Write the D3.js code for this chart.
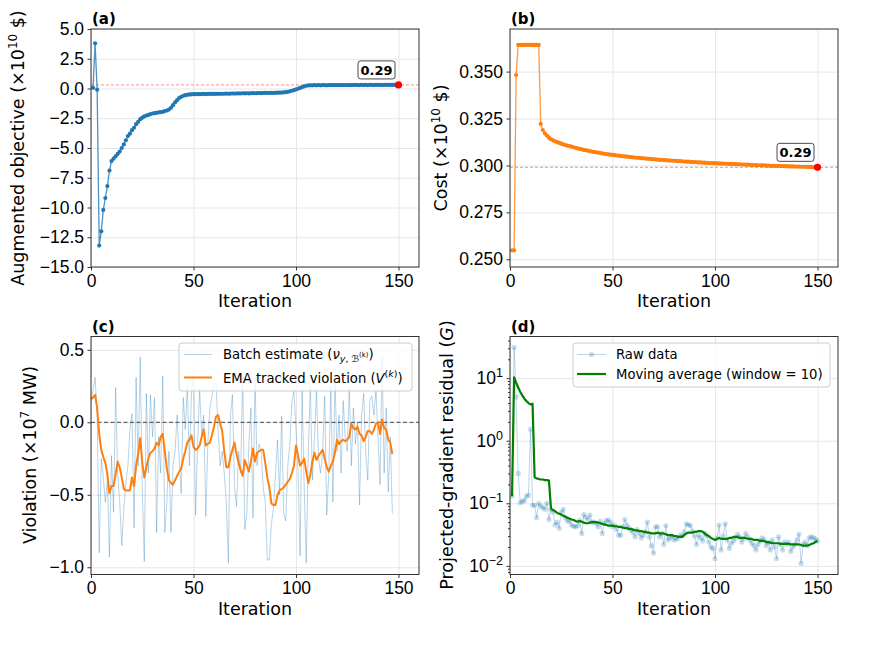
<!DOCTYPE html>
<html>
<head>
<meta charset="utf-8">
<script src="https://cdn.jsdelivr.net/npm/d3@7"></script>
<style>
body { margin: 0; background: #fff; }
svg { font-family: "DejaVu Sans", sans-serif; }
.axis .tick text { font-size: 17.5px; fill: #000; }
.axis .tick line { stroke: #000; stroke-width: 0.8; }
.axis .domain { display: none; }
.grid .tick line { stroke: #e6e6e6; stroke-width: 1; }
.grid .domain { display: none; }
</style>
</head>
<body>
<svg id="fig" width="889" height="647"></svg>
<script>
// iterations for panels a, b, d run 1..150; panel c runs 0..147
var iterations = d3.range(1, 151);
var iterationsC = d3.range(0, 148);

// (a) augmented objective, x1e10 $
var objective = [0.06,3.8,-0.1,-13.2,-12.0,-10.2,-9.2,-8.2,-6.9,-6.1,
  -5.9,-5.7,-5.5,-5.3,-5.0,-4.7,-4.35,-4.0,-3.8,-3.5,
  -3.3,-3.0,-2.8,-2.58,-2.45,-2.35,-2.27,-2.22,-2.15,-2.1,
  -2.07,-2.04,-2.01,-1.99,-1.96,-1.9,-1.85,-1.77,-1.62,-1.4,
  -1.17,-0.98,-0.8,-0.7,-0.61,-0.56,-0.53,-0.5,-0.5,-0.48,
  -0.48,-0.47,-0.48,-0.47,-0.46,-0.47,-0.46,-0.46,-0.45,-0.46,
  -0.45,-0.44,-0.45,-0.44,-0.44,-0.43,-0.44,-0.43,-0.42,-0.43,
  -0.42,-0.41,-0.42,-0.40,-0.41,-0.40,-0.41,-0.40,-0.39,-0.40,
  -0.39,-0.38,-0.39,-0.38,-0.37,-0.38,-0.37,-0.36,-0.37,-0.36,
  -0.35,-0.35,-0.34,-0.33,-0.31,-0.28,-0.24,-0.19,-0.14,-0.08,
  -0.02,0.05,0.12,0.18,0.23,0.26,0.27,0.27,0.28,0.27,
  0.28,0.27,0.28,0.28,0.27,0.28,0.29,0.28,0.28,0.29,
  0.28,0.29,0.28,0.29,0.29,0.28,0.29,0.29,0.30,0.29,
  0.29,0.30,0.29,0.30,0.29,0.30,0.30,0.29,0.30,0.30,
  0.30,0.29,0.30,0.30,0.31,0.30,0.30,0.30,0.30,0.30];

// (b) cost, x1e10 $
var cost = [0.2548,0.2548,0.3482,0.3642,0.3642,0.3642,0.3642,0.3642,0.3642,0.3642,
  0.3642,0.3642,0.3642,0.3642,0.3221,0.3189,0.3171,0.3159,0.3148,0.3139,
  0.3134,0.3129,0.3124,0.3120,0.3116,0.3112,0.3109,0.3106,0.3103,0.3100,
  0.3097,0.3094,0.3091,0.3088,0.3086,0.3083,0.3081,0.3079,0.3076,0.3074,
  0.3072,0.3070,0.3068,0.3066,0.3064,0.3062,0.3061,0.3059,0.3058,0.3056,
  0.3055,0.3053,0.3052,0.3051,0.3049,0.3048,0.3047,0.3046,0.3044,0.3043,
  0.3042,0.3041,0.3040,0.3039,0.3038,0.3037,0.3036,0.3035,0.3034,0.3033,
  0.3032,0.3031,0.3030,0.3030,0.3029,0.3028,0.3027,0.3026,0.3026,0.3025,
  0.3024,0.3023,0.3023,0.3022,0.3021,0.3020,0.3020,0.3019,0.3018,0.3018,
  0.3017,0.3016,0.3016,0.3015,0.3015,0.3014,0.3013,0.3013,0.3012,0.3012,
  0.3011,0.3011,0.3010,0.3010,0.3009,0.3009,0.3008,0.3008,0.3007,0.3007,
  0.3006,0.3006,0.3005,0.3005,0.3004,0.3004,0.3003,0.3003,0.3002,0.3002,
  0.3001,0.3001,0.3000,0.3000,0.2999,0.2999,0.2998,0.2998,0.2998,0.2997,
  0.2997,0.2997,0.2996,0.2996,0.2996,0.2995,0.2995,0.2995,0.2994,0.2994,
  0.2994,0.2993,0.2993,0.2993,0.2992,0.2992,0.2992,0.2991,0.2991,0.2990];

// (c) violation, x1e7 MW
var batchEstimate = [0.15,0.22,0.31,0.05,-0.90,-0.25,-0.38,-0.55,-0.40,-0.93,
  -0.23,-0.62,0.24,-0.35,-0.55,-0.85,-0.60,-0.42,-0.30,-0.05,
  0.06,-0.73,0.31,-0.30,0.45,-0.45,-0.96,0.20,-0.35,0.19,
  -0.10,0.17,-0.76,-0.10,-0.35,0.32,-0.76,-0.55,-0.20,-0.76,
  -0.30,-0.20,0.05,-0.25,-0.49,0.17,-0.05,0.25,-0.30,0.20,
  0.33,-0.64,-0.15,0.23,-0.10,0.05,-0.65,-0.15,0.10,0.18,
  0.30,0.28,-0.05,-0.30,-0.20,-0.35,-0.55,-0.97,0.05,0.19,
  -0.45,-0.58,-0.20,-0.35,0.33,-0.74,-0.63,-0.15,0.10,-0.66,
  0.30,-0.30,-0.15,-0.20,-0.45,-0.55,-0.95,-0.95,-0.70,-0.60,
  -0.35,-0.12,-0.50,0.04,-0.63,-0.68,-0.30,-0.15,0.14,0.22,
  -0.05,-0.35,-0.92,0.22,-0.45,-0.97,-0.20,0.25,-0.40,-0.10,
  0.22,-0.25,-0.35,-0.20,0.18,-0.64,-0.35,0.25,-0.55,0.30,
  -0.20,0.05,-0.35,0.15,-0.10,-0.20,0.25,-0.30,0.10,-0.15,
  0.00,-0.57,0.05,0.20,-0.20,-0.40,0.15,0.18,0.05,0.22,
  -0.10,-0.43,0.45,-0.35,0.10,-0.48,-0.10,-0.63];

var emaViolation = [0.16,0.17,0.19,0.10,-0.08,-0.19,-0.24,-0.28,-0.36,-0.49,
  -0.44,-0.44,-0.36,-0.27,-0.31,-0.38,-0.46,-0.47,-0.47,-0.47,
  -0.38,-0.44,-0.30,-0.22,-0.11,-0.28,-0.38,-0.31,-0.25,-0.21,
  -0.20,-0.18,-0.14,-0.16,-0.10,-0.08,-0.20,-0.32,-0.40,-0.42,
  -0.43,-0.40,-0.37,-0.34,-0.32,-0.25,-0.20,-0.14,-0.12,-0.09,
  -0.17,-0.19,-0.18,-0.16,-0.10,-0.05,-0.16,-0.15,-0.14,-0.09,
  -0.03,0.04,0.05,-0.01,-0.06,-0.20,-0.31,-0.31,-0.24,-0.19,
  -0.14,-0.22,-0.28,-0.33,-0.37,-0.26,-0.30,-0.34,-0.27,-0.18,
  -0.27,-0.21,-0.20,-0.19,-0.19,-0.28,-0.38,-0.45,-0.56,-0.57,
  -0.57,-0.50,-0.47,-0.46,-0.45,-0.43,-0.41,-0.39,-0.35,-0.30,
  -0.16,-0.23,-0.30,-0.28,-0.25,-0.34,-0.42,-0.36,-0.27,-0.21,
  -0.26,-0.23,-0.21,-0.19,-0.25,-0.31,-0.34,-0.30,-0.27,-0.21,
  -0.12,-0.15,-0.13,-0.12,-0.13,-0.12,-0.10,-0.01,-0.04,-0.05,
  -0.03,-0.08,-0.09,-0.13,-0.10,-0.06,-0.06,-0.08,-0.05,-0.01,
  0.00,-0.08,0.02,-0.04,-0.05,-0.12,-0.14,-0.22];

// (d) projected-gradient residual G
var residualRaw = [0.13,31,5.0,0.30,0.102,0.108,0.11,0.13,0.135,1.53,
  0.093,0.093,0.059,0.10,0.09,0.085,0.08,0.10,0.055,0.08,
  0.073,0.045,0.05,0.04,0.072,0.08,0.059,0.052,0.052,0.045,
  0.043,0.042,0.044,0.054,0.033,0.066,0.06,0.055,0.065,0.05,
  0.05,0.048,0.042,0.052,0.033,0.048,0.053,0.054,0.05,0.042,
  0.045,0.038,0.031,0.031,0.042,0.055,0.045,0.040,0.037,0.034,
  0.029,0.038,0.033,0.028,0.031,0.035,0.050,0.029,0.021,0.016,
  0.042,0.042,0.029,0.033,0.022,0.044,0.026,0.028,0.030,0.026,
  0.027,0.028,0.031,0.030,0.035,0.047,0.045,0.044,0.036,0.030,
  0.022,0.031,0.028,0.025,0.033,0.030,0.024,0.020,0.019,0.013,
  0.028,0.045,0.018,0.030,0.047,0.026,0.019,0.023,0.025,0.028,
  0.032,0.029,0.024,0.027,0.033,0.029,0.026,0.023,0.021,0.018,
  0.022,0.025,0.028,0.026,0.021,0.024,0.018,0.026,0.020,0.013,
  0.029,0.022,0.018,0.024,0.022,0.024,0.017,0.020,0.022,0.026,
  0.032,0.011,0.022,0.024,0.021,0.028,0.029,0.028,0.027,0.025];

var residualMA = [0.13,10.3,8.5,7.1,6.0,5.3,4.7,4.3,4.0,3.8,
  3.9,0.26,0.25,0.245,0.24,0.24,0.235,0.235,0.23,0.082,
  0.078,0.075,0.07,0.068,0.066,0.063,0.061,0.059,0.057,0.055,
  0.054,0.052,0.051,0.052,0.051,0.049,0.048,0.048,0.049,0.05,
  0.05,0.05,0.049,0.048,0.047,0.046,0.045,0.044,0.044,0.044,
  0.043,0.043,0.042,0.042,0.041,0.040,0.040,0.039,0.039,0.038,
  0.037,0.037,0.036,0.036,0.035,0.035,0.034,0.034,0.033,0.033,
  0.033,0.034,0.033,0.033,0.033,0.032,0.031,0.031,0.031,0.030,
  0.030,0.029,0.029,0.029,0.031,0.033,0.034,0.034,0.034,0.035,
  0.035,0.036,0.036,0.035,0.033,0.031,0.030,0.028,0.027,0.026,
  0.027,0.028,0.027,0.027,0.027,0.027,0.028,0.028,0.029,0.029,
  0.029,0.028,0.028,0.028,0.028,0.027,0.027,0.027,0.026,0.026,
  0.026,0.025,0.025,0.025,0.024,0.024,0.0235,0.023,0.023,0.023,
  0.023,0.0225,0.0225,0.0225,0.0225,0.0225,0.022,0.022,0.022,0.022,
  0.022,0.0215,0.021,0.021,0.021,0.0215,0.0225,0.023,0.024,0.025];

// tick values and annotations
var xTicks = [0, 50, 100, 150];
var yTicksA = [-15, -12.5, -10, -7.5, -5, -2.5, 0, 2.5, 5];
var yTicksB = [0.250, 0.275, 0.300, 0.325, 0.350];
var yTicksC = [-1.0, -0.5, 0.0, 0.5];
var yTicksD = [0.01, 0.1, 1, 10];
var finalLabels = ["0.29", "0.29"];

var svg = d3.select("#fig");
var W = 328, H = 238;

function zipXY(xs, ys) {
  return xs.map(function (d, i) { return [d, ys[i]]; });
}

// builds one panel frame with grid, ticks, labels and returns group + scales
function makePanel(left, top, y, yTicks, yFmt, tag) {
  var g = svg.append("g").attr("transform", "translate(" + left + "," + top + ")");
  var x = d3.scaleLinear().domain([0, 160]).range([0, W]);

  g.append("g").attr("class", "grid")
    .call(d3.axisLeft(y).tickValues(yTicks).tickSize(-W).tickFormat(""));
  g.append("g").attr("class", "grid")
    .attr("transform", "translate(0," + H + ")")
    .call(d3.axisBottom(x).tickValues(xTicks).tickSize(-H).tickFormat(""));

  var yAxis = g.append("g").attr("class", "axis yaxis")
    .call(d3.axisLeft(y).tickValues(yTicks).tickSize(3.5).tickPadding(3.5).tickFormat(yFmt));
  g.append("g").attr("class", "axis")
    .attr("transform", "translate(0," + H + ")")
    .call(d3.axisBottom(x).tickValues(xTicks).tickSize(3.5).tickPadding(4).tickFormat(d3.format("d")));

  g.append("text")
    .attr("x", W / 2).attr("y", H + 40)
    .attr("text-anchor", "middle")
    .attr("font-size", 17.5)
    .text("Iteration");

  g.append("text")
    .attr("x", 1).attr("y", -5)
    .attr("font-size", 15).attr("font-weight", "bold")
    .text(tag);

  var plot = g.append("g");
  return { g: g, plot: plot, x: x, y: y, yAxis: yAxis };
}

function frame(p) {
  p.g.append("rect")
    .attr("width", W).attr("height", H)
    .attr("fill", "none").attr("stroke", "#333").attr("stroke-width", 1);
}

function yLabel(cx, cy, parts) {
  var t = svg.append("text")
    .attr("transform", "translate(" + cx + "," + cy + ") rotate(-90)")
    .attr("text-anchor", "middle")
    .attr("font-size", 17.5);
  parts.forEach(function (p) {
    var s = t.append("tspan").text(p.t);
    if (p.sup) s.attr("font-size", 12).attr("dy", -7);
    if (p.back) s.attr("dy", 7);
    if (p.it) s.attr("font-style", "italic");
  });
}

function annotate(p, xv, yv, label) {
  var cx = p.x(xv) - 22, cy = p.y(yv) - 15;
  var ag = p.g.append("g");
  ag.append("rect")
    .attr("x", cx - 18.5).attr("y", cy - 9)
    .attr("width", 37).attr("height", 18).attr("rx", 2.5)
    .attr("fill", "#fff").attr("stroke", "#333").attr("stroke-width", 0.9);
  ag.append("text")
    .attr("x", cx).attr("y", cy + 4.8)
    .attr("text-anchor", "middle")
    .attr("font-size", 13).attr("font-weight", "bold")
    .text(label);
}

// ---------- (a) ----------
var yA = d3.scaleLinear().domain([-15, 5]).range([H, 0]);
var pA = makePanel(91, 29, yA, yTicksA, d3.format(".1f"), "(a)");
var dataA = zipXY(iterations, objective);
var lastA = dataA[dataA.length - 1];
pA.plot.append("line")
  .attr("x1", 0).attr("x2", W)
  .attr("y1", yA(lastA[1])).attr("y2", yA(lastA[1]))
  .attr("stroke", "red").attr("stroke-opacity", 0.5)
  .attr("stroke-width", 0.9).attr("stroke-dasharray", "3,2");
pA.plot.append("path")
  .datum(dataA)
  .attr("fill", "none").attr("stroke", "#1f77b4").attr("stroke-opacity", 0.8)
  .attr("stroke-width", 1.3)
  .attr("d", d3.line().x(function (d) { return pA.x(d[0]); }).y(function (d) { return yA(d[1]); }));
pA.plot.selectAll("circle.m").data(dataA).enter().append("circle")
  .attr("class", "m")
  .attr("cx", function (d) { return pA.x(d[0]); })
  .attr("cy", function (d) { return yA(d[1]); })
  .attr("r", 2.1).attr("fill", "#1f77b4");
pA.plot.append("circle")
  .attr("cx", pA.x(lastA[0])).attr("cy", yA(lastA[1]))
  .attr("r", 3.6).attr("fill", "red");
frame(pA);
annotate(pA, lastA[0], lastA[1], finalLabels[0]);
yLabel(24, 148, [{t: "Augmented objective (\u00d710"}, {t: "10", sup: true}, {t: " $)", back: true}]);

// ---------- (b) ----------
var yB = d3.scaleLinear().domain([0.2459, 0.3727]).range([H, 0]);
var pB = makePanel(510, 29, yB, yTicksB, d3.format(".3f"), "(b)");
var dataB = zipXY(iterations, cost);
var lastB = dataB[dataB.length - 1];
pB.plot.append("line")
  .attr("x1", 0).attr("x2", W)
  .attr("y1", yB(lastB[1])).attr("y2", yB(lastB[1]))
  .attr("stroke", "red").attr("stroke-opacity", 0.5)
  .attr("stroke-width", 0.9).attr("stroke-dasharray", "3,2");
pB.plot.append("path")
  .datum(dataB)
  .attr("fill", "none").attr("stroke", "#ff7f0e").attr("stroke-opacity", 0.8)
  .attr("stroke-width", 1.3)
  .attr("d", d3.line().x(function (d) { return pB.x(d[0]); }).y(function (d) { return yB(d[1]); }));
pB.plot.selectAll("circle.m").data(dataB).enter().append("circle")
  .attr("class", "m")
  .attr("cx", function (d) { return pB.x(d[0]); })
  .attr("cy", function (d) { return yB(d[1]); })
  .attr("r", 2.1).attr("fill", "#ff7f0e");
pB.plot.append("circle")
  .attr("cx", pB.x(lastB[0])).attr("cy", yB(lastB[1]))
  .attr("r", 3.6).attr("fill", "red");
frame(pB);
annotate(pB, lastB[0], lastB[1], finalLabels[1]);
yLabel(447, 148, [{t: "Cost (\u00d710"}, {t: "10", sup: true}, {t: " $)", back: true}]);

// ---------- (c) ----------
var yC = d3.scaleLinear().domain([-1.05, 0.592]).range([H, 0]);
var pC = makePanel(91, 336.5, yC, yTicksC, d3.format(".1f"), "(c)");
pC.plot.append("line")
  .attr("x1", 0).attr("x2", W)
  .attr("y1", yC(0)).attr("y2", yC(0))
  .attr("stroke", "#000").attr("stroke-opacity", 0.8)
  .attr("stroke-width", 0.9).attr("stroke-dasharray", "4,2.5");
pC.plot.append("path")
  .datum(zipXY(iterationsC, batchEstimate))
  .attr("fill", "none").attr("stroke", "#1f77b4").attr("stroke-opacity", 0.38)
  .attr("stroke-width", 0.85)
  .attr("d", d3.line().x(function (d) { return pC.x(d[0]); }).y(function (d) { return yC(d[1]); }));
pC.plot.append("path")
  .datum(zipXY(iterationsC, emaViolation))
  .attr("fill", "none").attr("stroke", "#ff7f0e")
  .attr("stroke-width", 2).attr("stroke-linejoin", "round")
  .attr("d", d3.line().x(function (d) { return pC.x(d[0]); }).y(function (d) { return yC(d[1]); }));
frame(pC);
yLabel(36, 455, [{t: "Violation (\u00d710"}, {t: "7", sup: true}, {t: " MW)", back: true}]);

// legend (c)
var lgC = pC.g.append("g").attr("transform", "translate(88,6.5)");
lgC.append("rect").attr("width", 233).attr("height", 48).attr("rx", 3)
  .attr("fill", "#fff").attr("fill-opacity", 0.8)
  .attr("stroke", "#ccc").attr("stroke-width", 1);
lgC.append("line").attr("x1", 5).attr("x2", 33).attr("y1", 11.5).attr("y2", 11.5)
  .attr("stroke", "#1f77b4").attr("stroke-opacity", 0.38).attr("stroke-width", 0.85);
lgC.append("line").attr("x1", 5).attr("x2", 33).attr("y1", 34.5).attr("y2", 34.5)
  .attr("stroke", "#ff7f0e").attr("stroke-width", 2);
var t1 = lgC.append("text").attr("x", 44).attr("y", 16).attr("font-size", 13.2);
t1.append("tspan").text("Batch estimate (");
t1.append("tspan").attr("font-style", "italic").text("\u03bd");
t1.append("tspan").attr("font-size", 9.5).attr("dy", 3).attr("font-style", "italic").text("y");
t1.append("tspan").attr("font-size", 9.5).text(", \u212c");
t1.append("tspan").attr("font-size", 7).attr("dy", -5).text("(k)");
t1.append("tspan").attr("dy", 2).text(")");
var t2 = lgC.append("text").attr("x", 44).attr("y", 39.5).attr("font-size", 13.2);
t2.append("tspan").text("EMA tracked violation (");
t2.append("tspan").attr("font-style", "italic").text("V");
t2.append("tspan").attr("font-size", 9.5).attr("dy", -6).text("(");
t2.append("tspan").attr("font-size", 9.5).attr("font-style", "italic").text("k");
t2.append("tspan").attr("font-size", 9.5).text(")");
t2.append("tspan").attr("dy", 6).text(")");

// ---------- (d) ----------
var yD = d3.scaleLog().domain([0.00728, 46.3]).range([H, 0]);
var supDigits = function (d) { return String(Math.round(Math.log10(d))).replace("-", "\u2212"); };
var pD = makePanel(510, 336.5, yD, yTicksD, function () { return ""; }, "(d)");
pD.yAxis.selectAll(".tick text").each(function (d) {
  var t = d3.select(this);
  t.append("tspan").text("10");
  t.append("tspan").attr("font-size", 12.5).attr("dy", -7).text(supDigits(d));
});
// minor ticks on the log axis
var minorD = yD.ticks().filter(function (d) { return yTicksD.indexOf(d) < 0; });
pD.g.append("g").attr("class", "axis")
  .call(d3.axisLeft(yD).tickValues(minorD).tickSize(2).tickFormat(""));
var dataRaw = zipXY(iterations, residualRaw);
pD.plot.append("path")
  .datum(dataRaw)
  .attr("fill", "none").attr("stroke", "#1f77b4").attr("stroke-opacity", 0.3)
  .attr("stroke-width", 1)
  .attr("d", d3.line().x(function (d) { return pD.x(d[0]); }).y(function (d) { return yD(d[1]); }));
pD.plot.selectAll("circle.m").data(dataRaw).enter().append("circle")
  .attr("class", "m")
  .attr("cx", function (d) { return pD.x(d[0]); })
  .attr("cy", function (d) { return yD(d[1]); })
  .attr("r", 2.6).attr("fill", "#1f77b4").attr("fill-opacity", 0.25);
pD.plot.append("path")
  .datum(zipXY(iterations, residualMA))
  .attr("fill", "none").attr("stroke", "green")
  .attr("stroke-width", 2.2).attr("stroke-linejoin", "round")
  .attr("d", d3.line().x(function (d) { return pD.x(d[0]); }).y(function (d) { return yD(d[1]); }));
frame(pD);
yLabel(453, 455, [{t: "Projected-gradient residual ("}, {t: "G", it: true}, {t: ")"}]);

// legend (d)
var lgD = pD.g.append("g").attr("transform", "translate(63,6.5)");
lgD.append("rect").attr("width", 257).attr("height", 44).attr("rx", 3)
  .attr("fill", "#fff").attr("fill-opacity", 0.8)
  .attr("stroke", "#ccc").attr("stroke-width", 1);
lgD.append("line").attr("x1", 4).attr("x2", 33).attr("y1", 11.5).attr("y2", 11.5)
  .attr("stroke", "#1f77b4").attr("stroke-opacity", 0.3).attr("stroke-width", 1);
lgD.append("circle").attr("cx", 18.5).attr("cy", 11.5).attr("r", 2.6)
  .attr("fill", "#1f77b4").attr("fill-opacity", 0.25);
lgD.append("line").attr("x1", 4).attr("x2", 33).attr("y1", 31).attr("y2", 31)
  .attr("stroke", "green").attr("stroke-width", 2.2);
lgD.append("text").attr("x", 43).attr("y", 16).attr("font-size", 13.2).text("Raw data");
lgD.append("text").attr("x", 43).attr("y", 35.5).attr("font-size", 13.2).text("Moving average (window = 10)");
</script>
</body>
</html>
